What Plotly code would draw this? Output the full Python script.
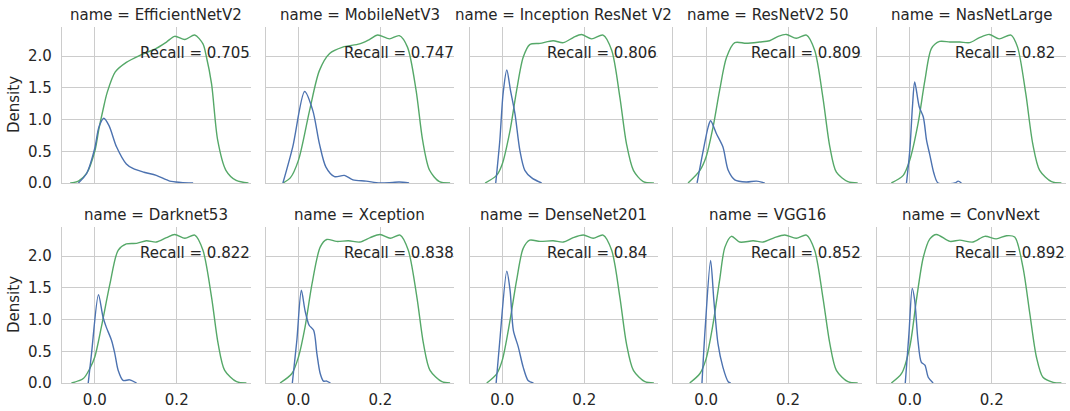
import plotly.graph_objects as go

names = ["EfficientNetV2", "MobileNetV3", "Inception ResNet V2", "ResNetV2 50", "NasNetLarge",
         "Darknet53", "Xception", "DenseNet201", "VGG16", "ConvNext"]
recalls = ["0.705", "0.747", "0.806", "0.809", "0.82", "0.822", "0.838", "0.84", "0.852", "0.892"]

x_ticks = [0.0, 0.2]
x_tick_labels = ["0.0", "0.2"]
y_ticks = [0.0, 0.5, 1.0, 1.5, 2.0]
y_tick_labels = ["0.0", "0.5", "1.0", "1.5", "2.0"]

# green density curves
green_x = [
    [-0.06, -0.04, -0.02, 0.0, 0.01, 0.02, 0.03, 0.05, 0.077, 0.11, 0.15, 0.175, 0.195, 0.22, 0.244, 0.264, 0.272, 0.285, 0.30, 0.32, 0.345, 0.375],
    [-0.038, -0.02, 0.0, 0.027, 0.051, 0.076, 0.108, 0.149, 0.173, 0.193, 0.222, 0.246, 0.266, 0.287, 0.303, 0.32, 0.344, 0.37],
    [-0.042, -0.014, 0.0, 0.019, 0.035, 0.051, 0.067, 0.092, 0.124, 0.149, 0.173, 0.193, 0.218, 0.246, 0.267, 0.287, 0.303, 0.32, 0.344, 0.37],
    [-0.044, -0.015, 0.0, 0.017, 0.033, 0.05, 0.07, 0.098, 0.131, 0.155, 0.176, 0.196, 0.22, 0.245, 0.265, 0.285, 0.302, 0.318, 0.346, 0.37],
    [-0.045, -0.016, 0.0, 0.02, 0.037, 0.053, 0.073, 0.098, 0.122, 0.146, 0.17, 0.194, 0.218, 0.247, 0.263, 0.283, 0.3, 0.317, 0.346, 0.37],
    [-0.057, -0.028, -0.012, 0.0, 0.016, 0.037, 0.057, 0.077, 0.102, 0.126, 0.15, 0.175, 0.195, 0.22, 0.244, 0.264, 0.285, 0.301, 0.317, 0.346, 0.37],
    [-0.045, -0.016, 0.0, 0.016, 0.033, 0.053, 0.069, 0.093, 0.122, 0.15, 0.175, 0.199, 0.224, 0.248, 0.268, 0.289, 0.305, 0.321, 0.35, 0.37],
    [-0.038, -0.014, 0.0, 0.019, 0.035, 0.051, 0.067, 0.092, 0.124, 0.149, 0.173, 0.198, 0.222, 0.246, 0.267, 0.287, 0.303, 0.32, 0.348, 0.37],
    [-0.04, -0.015, 0.0, 0.017, 0.033, 0.046, 0.062, 0.082, 0.115, 0.139, 0.167, 0.192, 0.22, 0.245, 0.265, 0.285, 0.302, 0.318, 0.346, 0.37],
    [-0.045, -0.02, 0.0, 0.016, 0.033, 0.049, 0.065, 0.098, 0.122, 0.154, 0.183, 0.211, 0.236, 0.256, 0.276, 0.293, 0.309, 0.325, 0.35, 0.37],
]
green_y = [
    [0, 0.03, 0.15, 0.5, 0.85, 1.15, 1.42, 1.75, 1.9, 2.01, 2.12, 2.22, 2.31, 2.26, 2.33, 2.19, 2.0, 1.56, 0.67, 0.2, 0.04, 0],
    [0, 0.08, 0.36, 1.14, 1.77, 2.04, 2.14, 2.19, 2.26, 2.33, 2.27, 2.32, 2.14, 1.46, 0.67, 0.2, 0.02, 0],
    [0, 0.12, 0.3, 0.83, 1.46, 1.98, 2.18, 2.2, 2.24, 2.21, 2.29, 2.34, 2.27, 2.33, 2.09, 1.35, 0.62, 0.2, 0.02, 0],
    [0, 0.2, 0.41, 0.88, 1.46, 1.98, 2.21, 2.2, 2.22, 2.24, 2.31, 2.34, 2.28, 2.33, 2.09, 1.35, 0.57, 0.17, 0.02, 0],
    [0, 0.12, 0.36, 0.93, 1.62, 2.12, 2.23, 2.22, 2.22, 2.21, 2.29, 2.34, 2.27, 2.33, 2.14, 1.41, 0.62, 0.2, 0.02, 0],
    [0, 0.07, 0.23, 0.41, 0.88, 1.56, 2.09, 2.19, 2.2, 2.24, 2.22, 2.29, 2.34, 2.28, 2.33, 2.09, 1.35, 0.62, 0.2, 0.02, 0],
    [0, 0.15, 0.41, 0.88, 1.56, 2.14, 2.26, 2.23, 2.24, 2.22, 2.29, 2.34, 2.28, 2.33, 2.09, 1.35, 0.62, 0.2, 0.02, 0],
    [0, 0.14, 0.36, 0.99, 1.62, 2.12, 2.25, 2.23, 2.24, 2.22, 2.29, 2.33, 2.28, 2.33, 2.09, 1.35, 0.62, 0.2, 0.02, 0],
    [0, 0.15, 0.38, 0.93, 1.62, 2.14, 2.31, 2.22, 2.24, 2.22, 2.29, 2.33, 2.28, 2.33, 2.09, 1.35, 0.62, 0.2, 0.02, 0],
    [0, 0.15, 0.57, 1.3, 1.98, 2.27, 2.34, 2.23, 2.25, 2.22, 2.31, 2.27, 2.32, 2.3, 1.83, 1.09, 0.41, 0.09, 0.01, 0],
]

# blue density curves
blue_x = [
    [-0.04, -0.02, 0.0, 0.01, 0.022, 0.035, 0.053, 0.077, 0.093, 0.12, 0.15, 0.183, 0.21, 0.24],
    [-0.038, -0.014, 0.015, 0.035, 0.051, 0.067, 0.088, 0.112, 0.133, 0.165, 0.198, 0.23, 0.246, 0.27],
    [-0.016, -0.006, 0.002, 0.011, 0.02, 0.031, 0.043, 0.055, 0.072, 0.096],
    [-0.022, -0.007, 0.005, 0.011, 0.025, 0.041, 0.054, 0.07, 0.098, 0.123, 0.143],
    [-0.008, 0.0, 0.0065, 0.012, 0.023, 0.033, 0.041, 0.049, 0.059, 0.069, 0.11, 0.118, 0.126],
    [-0.016, -0.008, 0.009, 0.02, 0.028, 0.041, 0.049, 0.057, 0.069, 0.085, 0.102],
    [-0.015, -0.004, 0.007, 0.016, 0.026, 0.037, 0.045, 0.053, 0.061, 0.069, 0.078],
    [-0.015, -0.006, 0.011, 0.019, 0.027, 0.039, 0.051, 0.063, 0.076],
    [-0.01, -0.002, 0.011, 0.019, 0.029, 0.041, 0.054, 0.06],
    [-0.011, -0.002, 0.006, 0.012, 0.02, 0.028, 0.037, 0.045, 0.057],
]
blue_y = [
    [0, 0.15, 0.55, 0.88, 1.02, 0.9, 0.57, 0.3, 0.23, 0.17, 0.12, 0.03, 0.01, 0],
    [0, 0.57, 1.44, 1.14, 0.62, 0.25, 0.1, 0.12, 0.05, 0.03, 0.0, 0.01, 0.015, 0],
    [0, 0.67, 1.41, 1.78, 1.46, 1.09, 0.51, 0.2, 0.08, 0],
    [0, 0.51, 0.88, 0.98, 0.78, 0.57, 0.2, 0.05, 0.015, 0.03, 0],
    [0, 0.51, 1.2, 1.59, 1.2, 1.04, 0.67, 0.44, 0.15, 0, 0, 0.03, 0],
    [0, 0.46, 1.39, 1.04, 0.88, 0.67, 0.46, 0.2, 0.04, 0.05, 0],
    [0, 0.67, 1.46, 1.14, 0.91, 0.83, 0.46, 0.15, 0.03, 0.03, 0],
    [0, 0.67, 1.76, 1.46, 0.83, 0.57, 0.25, 0.04, 0],
    [0, 0.88, 1.93, 1.3, 0.62, 0.25, 0.02, 0],
    [0, 0.78, 1.49, 1.3, 0.67, 0.33, 0.28, 0.09, 0],
]

BLUE = "#4c72b0"
GREEN = "#55a868"
GRID = "#cccccc"
TEXT = "#262626"
FONT = "DejaVu Sans"
FS = 15

W, H = 1070, 411
panel_left = [62, 265.7, 469.5, 673.3, 877]
panel_w = 188.5
row_top = [27, 227]
row_h = 156

fig = go.Figure()
layout = dict(
    width=W, height=H, margin=dict(l=0, r=0, t=0, b=0, autoexpand=False),
    paper_bgcolor="white", plot_bgcolor="white", showlegend=False,
    font=dict(family=FONT, size=FS, color=TEXT),
)
annotations = []
for i, name in enumerate(names):
    r, c = divmod(i, 5)
    k = i + 1
    xa = "xaxis" if k == 1 else f"xaxis{k}"
    ya = "yaxis" if k == 1 else f"yaxis{k}"
    xr = "x" if k == 1 else f"x{k}"
    yr = "y" if k == 1 else f"y{k}"
    x0 = panel_left[c] / W
    x1 = (panel_left[c] + panel_w) / W
    y1 = 1 - row_top[r] / H
    y0 = 1 - (row_top[r] + row_h) / H
    layout[xa] = dict(
        domain=[x0, x1], anchor=yr, range=[-0.08, 0.38],
        tickvals=x_ticks, ticktext=x_tick_labels, showticklabels=(r == 1),
        showgrid=True, gridcolor=GRID, gridwidth=1,
        showline=True, linecolor=GRID, linewidth=1.25, zeroline=False,
        ticks="outside" if r == 1 else "", ticklen=3, tickcolor="rgba(0,0,0,0)",
        tickfont=dict(size=FS, color=TEXT, family=FONT),
    )
    layout[ya] = dict(
        domain=[y0, y1], anchor=xr, range=[0, 2.457],
        tickvals=y_ticks, ticktext=y_tick_labels, showticklabels=(c == 0),
        showgrid=True, gridcolor=GRID, gridwidth=1,
        showline=True, linecolor=GRID, linewidth=1.25, zeroline=False,
        ticks="outside" if c == 0 else "", ticklen=6, tickcolor="rgba(0,0,0,0)",
        tickfont=dict(size=FS, color=TEXT, family=FONT),
    )
    fig.add_trace(go.Scatter(x=green_x[i], y=green_y[i], mode="lines",
                             line=dict(color=GREEN, width=1.4, shape="spline", smoothing=0.8),
                             xaxis=xr, yaxis=yr, hoverinfo="skip"))
    fig.add_trace(go.Scatter(x=blue_x[i], y=blue_y[i], mode="lines",
                             line=dict(color=BLUE, width=1.4, shape="spline", smoothing=0.8),
                             xaxis=xr, yaxis=yr, hoverinfo="skip"))
    annotations.append(dict(
        x=(x0 + x1) / 2, y=1 - (row_top[r] - 12) / H, xref="paper", yref="paper",
        text=f"name = {name}", showarrow=False, xanchor="center", yanchor="middle",
        font=dict(size=FS, color=TEXT, family=FONT)))
    annotations.append(dict(
        x=0.105, y=2.04, xref=xr, yref=yr, text=f"Recall = {recalls[i]}",
        showarrow=False, xanchor="left", yanchor="middle",
        font=dict(size=FS, color=TEXT, family=FONT)))

for r in range(2):
    annotations.append(dict(
        x=14 / W, y=1 - (row_top[r] + row_h / 2) / H, xref="paper", yref="paper",
        text="Density", textangle=-90, showarrow=False, xanchor="center", yanchor="middle",
        font=dict(size=FS, color=TEXT, family=FONT)))

layout["annotations"] = annotations
fig.update_layout(**layout)
fig.write_html("out.html", config={"displayModeBar": False},
               post_script="document.body.style.margin='0';")
